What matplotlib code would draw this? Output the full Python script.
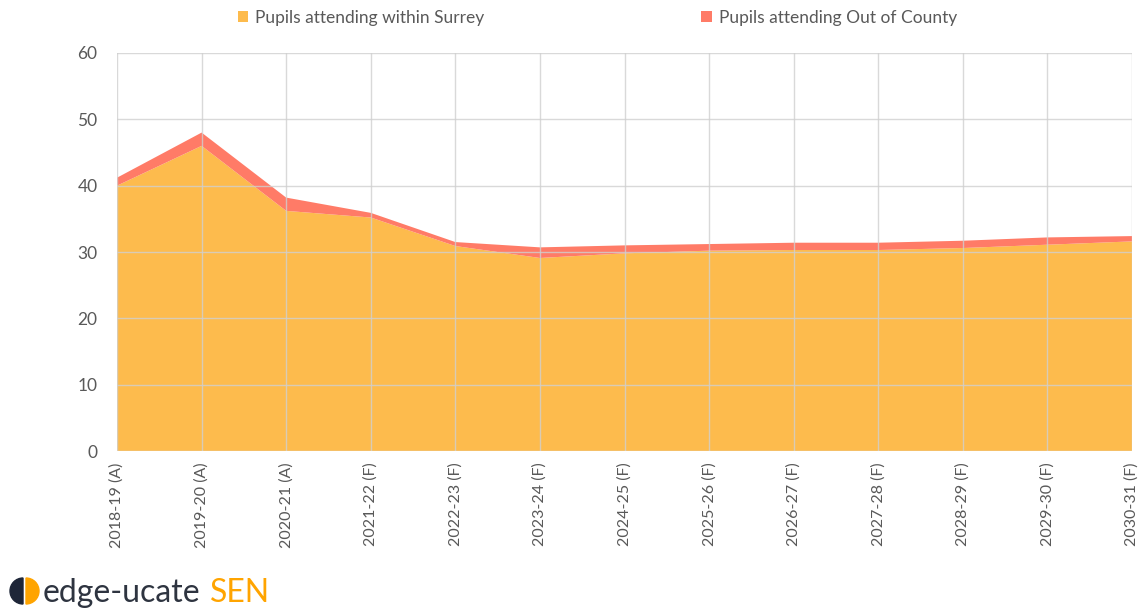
import matplotlib.pyplot as plt
from matplotlib.patches import Wedge
import numpy as np

plt.rcParams['font.family'] = ['Lato', 'DejaVu Sans']

# Data
years = ['2018-19 (A)', '2019-20 (A)', '2020-21 (A)', '2021-22 (F)', '2022-23 (F)',
         '2023-24 (F)', '2024-25 (F)', '2025-26 (F)', '2026-27 (F)', '2027-28 (F)',
         '2028-29 (F)', '2029-30 (F)', '2030-31 (F)']
within_surrey = [40.0, 46.0, 36.2, 35.2, 30.9, 29.1, 29.8, 30.2, 30.3, 30.3, 30.6, 31.1, 31.6]
out_of_county = [1.2, 2.0, 2.0, 0.7, 0.6, 1.6, 1.2, 1.0, 1.1, 1.1, 1.1, 1.1, 0.8]

orange = '#FDBB4D'
red = '#FF7B67'
grey = '#595959'

fig = plt.figure(figsize=(11.44, 6.09), dpi=100)
ax = fig.add_axes([0.1023, 0.2594, 0.8872, 0.6536])

x = np.arange(len(years))
ax.stackplot(x, within_surrey, out_of_county, colors=[orange, red],
             labels=['Pupils attending within Surrey', 'Pupils attending Out of County'],
             zorder=1)

ax.set_xlim(0, len(years) - 1)
ax.set_ylim(0, 60)
ax.set_yticks(range(0, 61, 10))
ax.set_xticks(x)
ax.set_xticklabels(years, rotation=90)
ax.tick_params(axis='both', length=0, colors=grey, labelsize=11.5, pad=8)
ax.tick_params(axis='y', labelsize=12.5, pad=14)

# grid drawn over the fills, as in the reference
for yv in range(10, 61, 10):
    ax.axhline(yv, color='#D0D0D0', lw=1, zorder=2, alpha=0.8)
for xv in x:
    ax.axvline(xv, color='#D0D0D0', lw=1, zorder=2, alpha=0.8)

for s in ax.spines.values():
    s.set_visible(False)
ax.axhline(0, color='#D9D9D9', lw=1, zorder=3)

leg = fig.legend(loc='upper center', bbox_to_anchor=(0.522, 1.01), ncol=2, frameon=False,
                 fontsize=12.5, handlelength=0.6, handleheight=0.6, handletextpad=0.4,
                 columnspacing=12.5)
for t in leg.get_texts():
    t.set_color(grey)

# logo
lax = fig.add_axes([0.0, 0.0, 1.0, 1.0], facecolor='none')
lax.set_xlim(0, 1144)
lax.set_ylim(609, 0)
lax.axis('off')
lax.set_aspect('equal')
lax.add_patch(Wedge((23, 591), 13, 90, 270, color='#1E2638'))
lax.add_patch(Wedge((26, 591), 13, -90, 90, color='#FFA400'))
t1 = lax.text(43, 593, 'edge-ucate', color='#2E3440', fontsize=23, va='center', ha='left')
fig.canvas.draw()
bb = t1.get_window_extent(fig.canvas.get_renderer())
lax.text(bb.x1 + 9, 593, 'SEN', color='#FFA400', fontsize=23, va='center', ha='left')

fig.savefig('out.png', dpi=100)
